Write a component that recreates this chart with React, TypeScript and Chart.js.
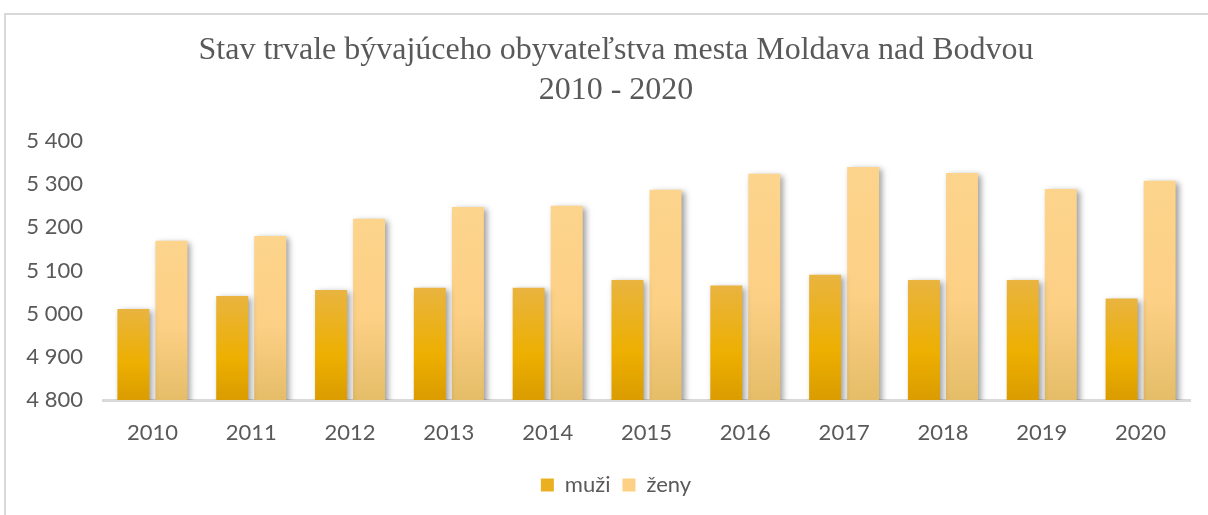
import React, { useEffect, useRef } from "react";
import { Chart, registerables, layouts } from "chart.js";

Chart.register(...registerables);

const years = ["2010", "2011", "2012", "2013", "2014", "2015", "2016", "2017", "2018", "2019", "2020"];
const muzi = [5011, 5041, 5055, 5060, 5060, 5078, 5065, 5090, 5078, 5078, 5035];
const zeny = [5169, 5180, 5220, 5247, 5250, 5287, 5324, 5340, 5326, 5289, 5308];
const yTickValues = [4800, 4900, 5000, 5100, 5200, 5300, 5400];
const yTickLabels = ["4 800", "4 900", "5 000", "5 100", "5 200", "5 300", "5 400"];

const titleLines = ["Stav trvale bývajúceho obyvateľstva mesta Moldava nad Bodvou", "2010 - 2020"];

function makeGradient(stops: [number, string][]) {
  return (ctx: any) => {
    const chart = ctx.chart;
    const y = chart.scales?.y;
    if (!y || ctx.raw == null) return stops[0][1];
    const top = y.getPixelForValue(ctx.raw);
    const bottom = y.getPixelForValue(y.min);
    if (!isFinite(top) || !isFinite(bottom) || bottom - top < 1) return stops[0][1];
    const g = chart.ctx.createLinearGradient(0, top, 0, bottom);
    stops.forEach(([o, c]) => g.addColorStop(o, c));
    return g;
  };
}

const shadowPlugin = {
  id: "barShadow",
  beforeDatasetsDraw(chart: any) {
    const c = chart.ctx;
    c.save();
    c.shadowColor = "rgba(0,0,0,0.38)";
    c.shadowBlur = 6;
    c.shadowOffsetX = 3;
    c.shadowOffsetY = 2;
  },
  afterDatasetsDraw(chart: any) {
    chart.ctx.restore();
  },
};

// right-side spacer that narrows the plot area but not the title/legend
const spacerPlugin = {
  id: "rightSpacer",
  beforeInit(chart: any) {
    const box: any = {
      position: "right",
      weight: 100,
      fullSize: false,
      options: {},
      width: 0,
      height: 0,
      left: 0,
      top: 0,
      right: 0,
      bottom: 0,
      isHorizontal: () => false,
      update(maxWidth: number, maxHeight: number) {
        box.width = 36;
        box.height = maxHeight;
      },
      draw() {},
    };
    layouts.addBox(chart, box);
  },
};

export default function App() {
  const ref = useRef<HTMLCanvasElement | null>(null);
  useEffect(() => {
    if (!ref.current) return;
    const chart = new Chart(ref.current, {
      type: "bar",
      data: {
        labels: years,
        datasets: [
          {
            label: "muži",
            data: muzi,
            backgroundColor: makeGradient([
              [0, "#E9B440"],
              [0.6, "#EDAF00"],
              [1, "#DA9C00"],
            ]),
            borderWidth: 0,
            barPercentage: 0.84,
            categoryPercentage: 0.77,
          },
          {
            label: "ženy",
            data: zeny,
            backgroundColor: makeGradient([
              [0, "#FDD48C"],
              [0.55, "#FCD085"],
              [1, "#E5BD68"],
            ]),
            borderWidth: 0,
            barPercentage: 0.84,
            categoryPercentage: 0.77,
          },
        ],
      },
      options: {
        responsive: true,
        maintainAspectRatio: false,
        animation: false,
        layout: { padding: { left: 0, right: 0, top: 16, bottom: 9 } },
        plugins: {
          title: {
            display: true,
            text: titleLines,
            color: "#595959",
            font: { family: "'Liberation Serif', serif", size: 32, weight: "normal", lineHeight: 1.25 },
            padding: { top: 0, bottom: 30 },
          },
          legend: {
            position: "bottom",
            labels: {
              color: "#595959",
              font: { family: "Lato", size: 22 },
              boxWidth: 13,
              boxHeight: 13,
              padding: 12,
              generateLabels: (ch: any) =>
                ch.data.datasets.map((ds: any, i: number) => ({
                  text: ds.label,
                  fillStyle: i === 0 ? "#EBB020" : "#FCD085",
                  strokeStyle: "rgba(0,0,0,0)",
                  lineWidth: 0,
                  datasetIndex: i,
                  hidden: false,
                  fontColor: "#595959",
                })),
            },
          },
          tooltip: { enabled: false },
        },
        scales: {
          x: {
            afterFit: (s: any) => {
              s.height = 62;
            },
            grid: { display: false, drawTicks: false },
            border: { display: true, color: "#D9D9D9", width: 3 },
            ticks: { color: "#595959", font: { family: "Lato", size: 22 }, padding: 20 },
          },
          y: {
            min: 4800,
            max: 5400,
            afterFit: (s: any) => {
              s.width = 97;
            },
            afterBuildTicks: (s: any) => {
              s.ticks = yTickValues.map((v) => ({ value: v }));
            },
            grid: { display: false, drawTicks: false },
            border: { display: false },
            ticks: {
              color: "#595959",
              font: { family: "Lato", size: 22 },
              padding: 20,
              callback: (v: any) => {
                const i = yTickValues.indexOf(Number(v));
                return i >= 0 ? yTickLabels[i] : "";
              },
            },
          },
        },
      },
      plugins: [shadowPlugin, spacerPlugin],
    });
    return () => chart.destroy();
  }, []);

  return (
    <div
      style={{
        position: "absolute",
        left: 4,
        top: 13,
        width: 1204,
        height: 502,
        borderLeft: "2px solid #D9D9D9",
        borderTop: "2px solid #D9D9D9",
        boxSizing: "border-box",
        background: "#fff",
        overflow: "hidden",
      }}
    >
      <div style={{ position: "relative", width: 1220, height: 500 }}>
        <canvas ref={ref} />
      </div>
    </div>
  );
}
